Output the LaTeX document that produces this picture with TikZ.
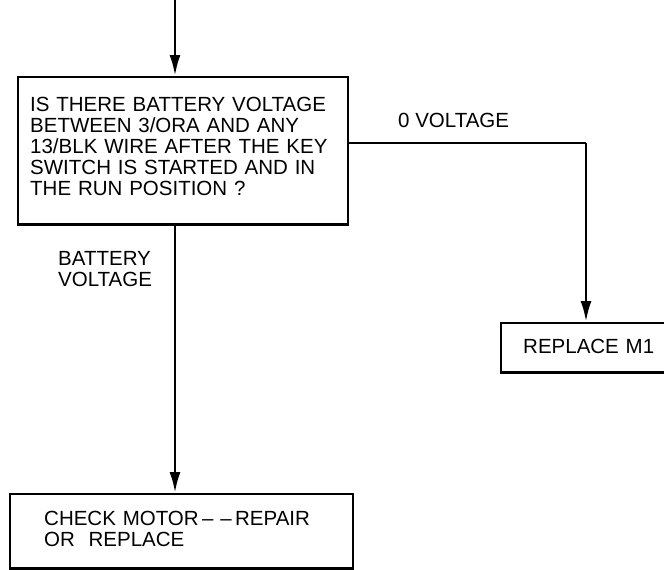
\documentclass[tikz,border=0pt]{standalone}
\usepackage{fontspec}
\setmainfont{Liberation Sans}
\usepackage{tikz}
\usetikzlibrary{arrows.meta,positioning}
\tikzset{
  box/.style={draw=black, line width=2.4pt, rectangle, align=left,
    font=\fontsize{20.5}{21}\selectfont},
  lbl/.style={inner sep=0pt, align=left, font=\fontsize{20.5}{21}\selectfont},
  flow/.style={-{Latex[length=21pt,width=11pt]}, line width=2.8pt},
  wire/.style={line width=2.8pt}
}

\begin{document}
\begin{tikzpicture}[x=1pt, y=1pt]
  \useasboundingbox (0,0) rectangle (664,-570);
  \clip (0,0) rectangle (664,-570);

  % question
  \coordinate (in) at (175,2);
  \node[box, anchor=north west, minimum width=330pt, text width=306pt,
    inner xsep=12pt, inner ysep=20pt, text depth=93pt] (quest) at (17,-76)
    {IS THERE BATTERY VOLTAGE\\BETWEEN 3/ORA AND ANY\\13/BLK WIRE AFTER THE KEY\\SWITCH IS STARTED AND IN\\THE RUN POSITION ?};
  \draw[flow] (in) -- (in |- quest.north);

  % 0 voltage branch
  \node[box, anchor=north west, minimum width=190pt, text width=146pt,
    inner xsep=22pt, inner ysep=16pt, text depth=3pt] (repl) at (500,-322) {REPLACE M1};
  \coordinate (bend) at (586,-143);
  \node[lbl, anchor=base west] (zero) at (398,-127) {0 VOLTAGE};
  \draw[wire] (quest.east |- bend) -- (bend);
  \draw[flow] (bend) -- (bend |- repl.north);

  % battery voltage branch
  \node[lbl, anchor=north west] (batt) at (58,-251) {BATTERY\\VOLTAGE};
  \node[box, anchor=north west, minimum width=343pt, text width=275pt,
    inner xsep=34pt, inner ysep=17pt, text depth=26pt] (check) at (9,-493)
    {CHECK MOTOR\,\textendash\ \textendash\,REPAIR\\OR~~REPLACE};
  \draw[flow] (in |- quest.south) -- (in |- check.north);
\end{tikzpicture}
\end{document}
